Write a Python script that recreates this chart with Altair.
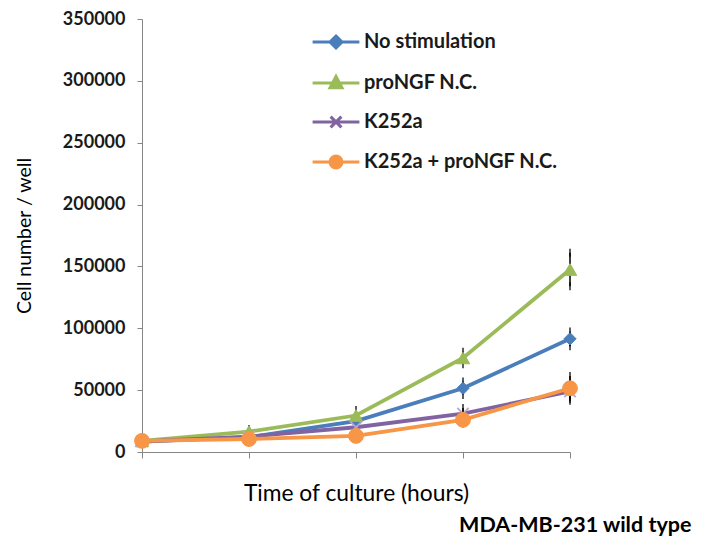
import altair as alt
import pandas as pd

hours = [0, 24, 48, 72, 96]
series_names = ["No stimulation", "proNGF N.C.", "K252a", "K252a + proNGF N.C."]
no_stim = [8500, 12000, 25000, 51500, 91500]
pro_ngf = [9000, 16500, 29500, 76000, 147500]
k252a = [8500, 12500, 20000, 31000, 49000]
k252a_pro = [9000, 10500, 13000, 26000, 51500]
err_no_stim = [1000, 1500, 3000, 5500, 6000]
err_pro_ngf = [1000, 2000, 4500, 5000, 13500]
err_k252a = [1000, 1500, 2500, 4500, 6000]
err_k252a_pro = [1000, 1500, 2000, 3000, 10000]
y_ticks = [0, 50000, 100000, 150000, 200000, 250000, 300000, 350000]

colors = ["#4A7EBB", "#9BBB59", "#8064A2", "#F79646"]

rows = []
for name, vals, errs in zip(series_names,
                            [no_stim, pro_ngf, k252a, k252a_pro],
                            [err_no_stim, err_pro_ngf, err_k252a, err_k252a_pro]):
    for h, v, e in zip(hours, vals, errs):
        rows.append({"series": name, "hours": h, "cells": v,
                     "lo": v - e, "hi": v + e})
df = pd.DataFrame(rows)

FONT = "Lato"

x_enc = alt.X("hours:Q", scale=alt.Scale(domain=[0, 96], nice=False),
              axis=alt.Axis(values=hours, labels=False, grid=False, tickSize=6,
                            domainColor="#868686", tickColor="#868686",
                            title="Time of culture (hours)", titleFont=FONT,
                            titleFontSize=22.8, titleFontWeight="normal",
                            titlePadding=24, titleColor="black"))
y_scale = alt.Scale(domain=[0, 350000], nice=False)
y_axis = alt.Axis(values=y_ticks, format="d", grid=False, tickSize=5,
                  domainColor="#868686", tickColor="#868686",
                  labelFont=FONT, labelFontSize=18, labelFontWeight="bold",
                  labelColor="#1a1a1a", labelPadding=12,
                  title="Cell number / well", titleFont=FONT, titleFontSize=19.5,
                  titleFontWeight="normal", titlePadding=28, titleColor="black")

color_scale = alt.Scale(domain=series_names, range=colors)

legend_paths = [
    "M-3.9,0H3.9M0,-1L1,0L0,1L-1,0Z",
    "M-3.9,0H3.9M0,-1.1L1,0.8L-1,0.8Z",
    "M-3.9,0H3.9M-0.9,-0.9L0.9,0.9M-0.9,0.9L0.9,-0.9",
    "M-3.9,0H3.9M1,0A1,1 0 1,1 -1,0A1,1 0 1,1 1,0Z",
]

legend = alt.Legend(
    title=None, orient="none", legendX=184, legendY=13,
    labelFont=FONT, labelFontSize=20, labelFontWeight="bold", labelColor="#1a1a1a",
    labelLimit=400,
    symbolSize=144, labelOffset=18, rowPadding=16, symbolStrokeWidth=3,
    symbolOpacity=1,
)

base = alt.Chart(df)

lines = base.mark_line(strokeWidth=3.8).encode(
    x=x_enc,
    y=alt.Y("cells:Q", scale=y_scale, axis=y_axis),
    color=alt.Color("series:N", scale=color_scale, sort=series_names, legend=None),
    order=alt.Order("hours:Q"),
)

legend_layer = alt.Chart(df[df.hours == 0]).mark_point(opacity=0, size=144).encode(
    x="hours:Q", y="cells:Q",
    fill=alt.Fill("series:N", scale=alt.Scale(domain=series_names, range=colors),
                  sort=series_names, legend=legend),
    stroke=alt.Stroke("series:N", scale=alt.Scale(domain=series_names, range=colors),
                      sort=series_names, legend=legend),
    shape=alt.Shape("series:N", scale=alt.Scale(domain=series_names, range=legend_paths),
                    sort=series_names, legend=legend),
)

bars = base.mark_rule(color="black", strokeWidth=1.5).encode(
    x="hours:Q", y="lo:Q", y2="hi:Q")
caps_hi = base.mark_tick(color="black", thickness=1.8, size=8).encode(
    x="hours:Q", y="hi:Q")
caps_lo = base.mark_tick(color="black", thickness=1.8, size=8).encode(
    x="hours:Q", y="lo:Q")

def pts(name, shape, size, filled=True, color=None):
    c = color or colors[series_names.index(name)]
    mk = alt.Chart(df[df.series == name])
    if filled:
        m = mk.mark_point(shape=shape, size=size, filled=True, fill=c, stroke=c,
                          strokeWidth=1, opacity=1)
    else:
        m = mk.mark_point(shape=shape, size=size, filled=False, stroke=c,
                          strokeWidth=1.8, opacity=1)
    return m.encode(x="hours:Q", y="cells:Q")

points = [
    pts("No stimulation", "diamond", 150),
    pts("proNGF N.C.", "triangle-up", 180),
    pts("K252a", "M-1,-1L1,1M-1,1L1,-1", 130, filled=False, color="#B9A5D3"),
    pts("K252a + proNGF N.C.", "circle", 220),
]

chart = alt.layer(lines, bars, caps_hi, caps_lo, *points, legend_layer).properties(
    width=428, height=433,
    autosize=alt.AutoSizeParams(type="none"),
    padding={"left": 134, "top": 11, "right": 123, "bottom": 86},
    background="white",
    title=alt.TitleParams("MDA-MB-231 wild type", orient="bottom", anchor="end",
                          dx=112, offset=10, font=FONT, fontSize=21.5,
                          fontWeight="bold", color="black"),
).resolve_scale(color="independent").configure_view(stroke=None)

chart.save("out.html", embed_options={"renderer": "svg", "actions": False})
